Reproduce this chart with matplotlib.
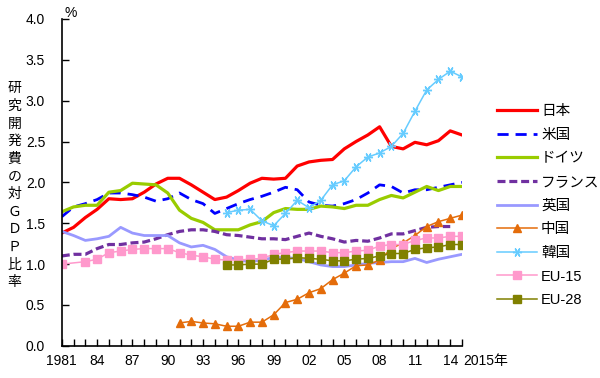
import matplotlib
matplotlib.use('Agg')
import matplotlib.pyplot as plt
import matplotlib.transforms as mtransforms

plt.rcParams['font.family'] = ['Liberation Sans', 'Noto Sans CJK JP', 'DejaVu Sans']

years = list(range(1981, 2016))

# 研究開発費の対GDP比率 (%)
japan = [1.38, 1.45, 1.57, 1.67, 1.80, 1.79, 1.80, 1.88, 1.98, 2.05,
         2.05, 1.97, 1.88, 1.79, 1.82, 1.90, 1.99, 2.05, 2.04, 2.05,
         2.20, 2.25, 2.27, 2.28, 2.41, 2.50, 2.58, 2.68, 2.44, 2.41,
         2.49, 2.46, 2.51, 2.63, 2.58]
usa = [1.58, 1.70, 1.74, 1.79, 1.87, 1.87, 1.85, 1.82, 1.77, 1.80,
       1.87, 1.79, 1.74, 1.62, 1.68, 1.74, 1.79, 1.83, 1.88, 1.94,
       1.91, 1.76, 1.72, 1.71, 1.74, 1.79, 1.87, 1.97, 1.95, 1.87,
       1.91, 1.91, 1.94, 1.97, 2.00]
germany = [1.64, 1.70, 1.72, 1.72, 1.88, 1.90, 1.99, 1.98, 1.97, 1.87,
           1.66, 1.56, 1.51, 1.42, 1.42, 1.42, 1.48, 1.52, 1.63, 1.68,
           1.67, 1.67, 1.71, 1.70, 1.68, 1.72, 1.72, 1.79, 1.84, 1.81,
           1.88, 1.95, 1.90, 1.95, 1.95]
france_years = list(range(1981, 2015))
france = [1.10, 1.12, 1.12, 1.19, 1.24, 1.24, 1.26, 1.27, 1.31, 1.36,
          1.40, 1.42, 1.42, 1.40, 1.36, 1.35, 1.33, 1.31, 1.31, 1.30,
          1.34, 1.38, 1.34, 1.31, 1.27, 1.29, 1.28, 1.32, 1.37, 1.37,
          1.41, 1.45, 1.46, 1.46]
uk = [1.40, 1.35, 1.29, 1.31, 1.34, 1.45, 1.38, 1.35, 1.35, 1.35,
      1.26, 1.21, 1.23, 1.18, 1.09, 1.05, 1.03, 1.05, 1.08, 1.08,
      1.07, 1.03, 0.99, 0.97, 0.97, 0.99, 1.01, 1.02, 1.03, 1.03,
      1.07, 1.02, 1.06, 1.09, 1.12]
china_years = list(range(1991, 2016))
china = [0.28, 0.30, 0.28, 0.27, 0.24, 0.24, 0.29, 0.29, 0.38, 0.53,
         0.57, 0.65, 0.70, 0.81, 0.89, 0.98, 0.99, 1.05, 1.19, 1.26,
         1.35, 1.46, 1.52, 1.56, 1.60]
korea_years = list(range(1995, 2016))
korea = [1.63, 1.66, 1.67, 1.53, 1.47, 1.62, 1.78, 1.69, 1.78, 1.97,
         2.02, 2.19, 2.31, 2.36, 2.44, 2.60, 2.87, 3.13, 3.26, 3.36, 3.29]
eu15_years = [1981] + list(range(1983, 2016))
eu15 = [1.00, 1.03, 1.06, 1.14, 1.16, 1.18, 1.19, 1.19, 1.19,
        1.14, 1.11, 1.09, 1.06, 1.05, 1.05, 1.06, 1.07, 1.12, 1.14,
        1.16, 1.16, 1.16, 1.14, 1.14, 1.16, 1.17, 1.22, 1.24, 1.24,
        1.29, 1.32, 1.32, 1.34, 1.34]
eu28_years = list(range(1995, 2016))
eu28 = [0.99, 0.99, 1.00, 1.00, 1.06, 1.06, 1.08, 1.07, 1.06, 1.04,
        1.04, 1.06, 1.07, 1.10, 1.13, 1.13, 1.18, 1.20, 1.21, 1.24, 1.24]

fig = plt.figure(figsize=(6, 3.78), dpi=100)
ax = fig.add_axes([0.103, 0.085, 0.667, 0.865])

ax.plot(years, japan, color='#FF0000', lw=2.3, label='日本')
ax.plot(years, usa, color='#0000FF', lw=2.0, dashes=(4, 2.5), label='米国')
ax.plot(years, germany, color='#99CC00', lw=2.3, label='ドイツ')
ax.plot(france_years, france, color='#7030A0', lw=2.3, dashes=(2.5, 1.2), label='フランス')
ax.plot(years, uk, color='#9999FF', lw=2.0, label='英国')
ax.plot(china_years, china, color='#E46C0A', lw=1.1, marker='^', ms=6, label='中国')
ax.plot(korea_years, korea, color='#66CCFF', lw=1.1, marker=(6, 2, 90), ms=6.5,
        mew=1.0, label='韓国')
ax.plot(eu15_years, eu15, color='#FF99CC', lw=1.1, marker='s', ms=5.5, label='EU-15')
ax.plot(eu28_years, eu28, color='#808000', lw=1.1, marker='s', ms=5.5, label='EU-28')

ax.set_xlim(1981, 2015)
ax.set_ylim(0, 4.0)
ax.set_yticks([0, 0.5, 1.0, 1.5, 2.0, 2.5, 3.0, 3.5, 4.0])
ax.set_yticklabels(['%.1f' % v for v in ax.get_yticks()])
ax.set_xticks(years, minor=True)
major = list(range(1981, 2015, 3))
ax.set_xticks(major)
ax.set_xticklabels(['1981'] + ['%02d' % (y % 100) for y in major[1:]])
ax.tick_params(axis='y', direction='in', length=5, width=1, pad=12, labelsize=10)
ax.tick_params(axis='x', which='both', direction='in', length=5, width=1, pad=6,
               labelsize=10)
for s in ['top', 'right']:
    ax.spines[s].set_visible(False)
for s in ['left', 'bottom']:
    ax.spines[s].set_linewidth(1.2)

trans = mtransforms.blended_transform_factory(ax.transData, ax.transAxes)
ax.text(2015.1, -0.045, '2015年', transform=trans, ha='left', va='center',
        fontsize=10, clip_on=False)

fig.text(0.117, 0.965, '%', ha='center', va='center', fontsize=10)
fig.text(0.024, 0.51, '\n'.join('研究開発費の対ＧＤＰ比率'), ha='center', va='center',
         fontsize=10, linespacing=1.33)

ax.legend(loc='center left', bbox_to_anchor=(0.807, 0.456),
          bbox_transform=fig.transFigure, frameon=False, fontsize=10.5,
          handlelength=2.7, handletextpad=0.3, labelspacing=0.66)

fig.savefig('out.png', dpi=100)
